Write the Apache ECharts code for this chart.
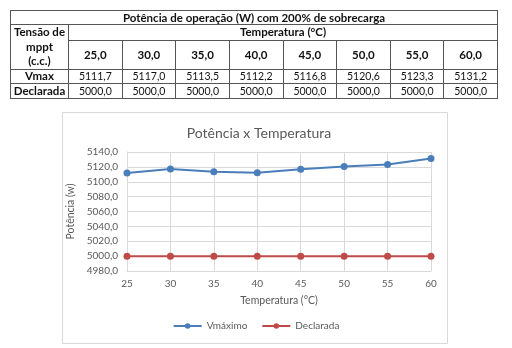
<!DOCTYPE html>
<html>
<head>
<meta charset="utf-8">
<script src="https://cdn.jsdelivr.net/npm/echarts@6/dist/echarts.min.js"></script>
<style>
  html, body { margin: 0; padding: 0; background: #fff; }
  #wrap { position: relative; width: 512px; height: 348px; overflow: hidden; }
  #chart { position: absolute; left: 0; top: 0; width: 512px; height: 348px; }
  #tbl {
    position: absolute; left: 10px; top: 10px; width: 488px;
    border-collapse: collapse; table-layout: fixed;
    font-family: Lato, "Noto Sans", sans-serif; font-size: 10.5px; color: #111;
  }
  #tbl td { border: 1px solid #555; text-align: center; padding: 0; line-height: 12px; }
  #tbl .b { font-weight: bold; font-size: 11.5px; }
  #tbl .tall { line-height: 14.5px; }
</style>
</head>
<body>
<div id="wrap">
  <div id="chart"></div>
  <table id="tbl"></table>
</div>
<script>
// Temperatures (°C) and operating power (W) with 200% overload
const temperatures = [25, 30, 35, 40, 45, 50, 55, 60];
const vmax = [5111.7, 5117.0, 5113.5, 5112.2, 5116.8, 5120.6, 5123.3, 5131.2];
const declarada = [5000.0, 5000.0, 5000.0, 5000.0, 5000.0, 5000.0, 5000.0, 5000.0];
const yTicks = [4980, 5000, 5020, 5040, 5060, 5080, 5100, 5120, 5140];

const fmt1 = v => v.toFixed(1).replace('.', ',');

// --- Table ---
const tbl = document.getElementById('tbl');
let html = '<colgroup><col style="width:58px">' + temperatures.map(() => '<col>').join('') + '</colgroup>';
html += '<tr style="height:14px"><td class="b" colspan="9">Potência de operação (W) com 200% de sobrecarga</td></tr>';
html += '<tr style="height:15px"><td class="b tall" rowspan="2">Tensão de<br>mppt<br>(c.c.)</td><td class="b" colspan="8">Temperatura (°C)</td></tr>';
html += '<tr style="height:28px">' + temperatures.map(t => '<td class="b">' + fmt1(t) + '</td>').join('') + '</tr>';
html += '<tr style="height:14px"><td class="b">Vmax</td>' + vmax.map(v => '<td>' + fmt1(v) + '</td>').join('') + '</tr>';
html += '<tr style="height:15px"><td class="b">Declarada</td>' + declarada.map(v => '<td>' + fmt1(v) + '</td>').join('') + '</tr>';
tbl.innerHTML = html;

// --- Chart ---
const chart = echarts.init(document.getElementById('chart'), null, { renderer: 'canvas' });
const FONT = 'Lato, "Noto Sans", sans-serif';
const TXT = '#595959';
const GRID = '#d9d9d9';
const BLUE = '#4a7ebb';
const RED = '#be4b48';

chart.setOption({
  animation: false,
  backgroundColor: '#fff',
  textStyle: { fontFamily: FONT },
  graphic: [{
    type: 'rect', z: -1,
    shape: { x: 62.5, y: 112.5, width: 385, height: 231 },
    style: { fill: '#fff', stroke: GRID, lineWidth: 1 }
  }],
  title: {
    text: 'Potência x Temperatura',
    left: 254, top: 121, textAlign: 'center',
    textStyle: { fontFamily: FONT, fontSize: 14, fontWeight: 'normal', color: TXT }
  },
  grid: { left: 127, right: 81, top: 152, bottom: 77 },
  legend: {
    bottom: 12, left: 'center', itemWidth: 28, itemHeight: 7, itemGap: 14,
    textStyle: { fontFamily: FONT, fontSize: 10, color: TXT },
    data: ['Vmáximo', 'Declarada']
  },
  xAxis: {
    type: 'value', min: temperatures[0], max: temperatures[temperatures.length - 1], interval: 5,
    name: 'Temperatura (°C)', nameLocation: 'middle', nameGap: 24,
    nameTextStyle: { fontFamily: FONT, fontSize: 10.5, color: TXT },
    axisLine: { lineStyle: { color: GRID } }, axisTick: { show: false },
    axisLabel: { fontFamily: FONT, fontSize: 10, color: TXT, margin: 8 },
    splitLine: { lineStyle: { color: GRID } }
  },
  yAxis: {
    type: 'value', min: yTicks[0], max: yTicks[yTicks.length - 1], interval: 20,
    name: 'Potência (w)', nameLocation: 'middle', nameGap: 40, nameRotate: 90,
    nameTextStyle: { fontFamily: FONT, fontSize: 10.5, color: TXT },
    axisLine: { show: true, lineStyle: { color: GRID } }, axisTick: { show: false },
    axisLabel: { fontFamily: FONT, fontSize: 10, color: TXT, margin: 9, formatter: v => fmt1(v) },
    splitLine: { lineStyle: { color: GRID } }
  },
  series: [
    {
      name: 'Vmáximo', type: 'line', symbol: 'circle', symbolSize: 7,
      data: temperatures.map((t, i) => [t, vmax[i]]),
      lineStyle: { color: BLUE, width: 2 }, itemStyle: { color: BLUE }
    },
    {
      name: 'Declarada', type: 'line', symbol: 'circle', symbolSize: 7,
      data: temperatures.map((t, i) => [t, declarada[i]]),
      lineStyle: { color: RED, width: 2 }, itemStyle: { color: RED }
    }
  ]
});
</script>
</body>
</html>
